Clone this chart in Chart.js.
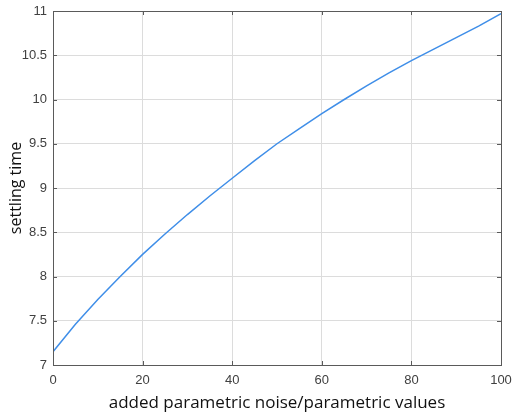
<!DOCTYPE html>
<html>
<head>
<meta charset="utf-8">
<script src="https://cdn.jsdelivr.net/npm/chart.js@4/dist/chart.umd.min.js"></script>
<style>
  html, body { margin: 0; padding: 0; background: #fff; }
  #wrap { width: 512px; height: 414px; }
</style>
</head>
<body>
<div id="wrap"><canvas id="chart" width="512" height="414"></canvas></div>
<script>
// noise values (x) and settling time
const noise = [0, 5, 10, 15, 20, 25, 30, 35, 40, 45, 50, 55, 60, 65, 70, 75, 80, 85, 90, 95, 100]
const settling = [7.15, 7.46, 7.74, 8.0, 8.25, 8.48, 8.7, 8.91, 9.11, 9.31, 9.5, 9.67, 9.84, 10.0, 10.155, 10.3, 10.44, 10.57, 10.7, 10.83, 10.97]

const xTicks = [0, 20, 40, 60, 80, 100]
const yTicks = [7, 7.5, 8, 8.5, 9, 9.5, 10, 10.5, 11]

// MATLAB style box with little inward tick marks
const boxPlugin = {
  id: 'box',
  afterDatasetsDraw(chart) {
    const { ctx, chartArea: a, scales } = chart
    ctx.save()
    ctx.strokeStyle = '#5a5a5a'
    ctx.lineWidth = 1
    ctx.beginPath()
    scales.x.ticks.forEach(t => {
      const px = Math.round(scales.x.getPixelForValue(t.value)) + 0.5
      ctx.moveTo(px, a.bottom); ctx.lineTo(px, a.bottom - 4)
      ctx.moveTo(px, a.top); ctx.lineTo(px, a.top + 4)
    })
    scales.y.ticks.forEach(t => {
      const py = Math.round(scales.y.getPixelForValue(t.value)) + 0.5
      ctx.moveTo(a.left, py); ctx.lineTo(a.left + 4, py)
      ctx.moveTo(a.right, py); ctx.lineTo(a.right - 4, py)
    })
    ctx.stroke()
    ctx.strokeRect(Math.round(a.left) + 0.5, Math.round(a.top) + 0.5,
      Math.round(a.right - a.left), Math.round(a.bottom - a.top))
    ctx.restore()
  }
}

Chart.defaults.font.family = '"Liberation Sans", Arial, sans-serif'

new Chart(document.getElementById('chart'), {
  type: 'line',
  data: {
    datasets: [{
      data: noise.map((n, i) => ({ x: n, y: settling[i] })),
      borderColor: '#3f8ee8',
      borderWidth: 1.5,
      pointRadius: 0,
      tension: 0,
      fill: false
    }]
  },
  options: {
    responsive: false,
    animation: false,
    layout: { padding: { top: 11, right: 11, left: 0, bottom: 0 } },
    plugins: { legend: { display: false }, tooltip: { enabled: false } },
    scales: {
      x: {
        type: 'linear',
        min: 0,
        max: 100,
        afterBuildTicks: s => { s.ticks = xTicks.map(v => ({ value: v })) },
        afterFit: s => { s.height = 49; s.paddingLeft = 0; s.paddingRight = 0 },
        grid: { color: '#dcdcdc', drawTicks: false },
        border: { display: false },
        ticks: { color: '#404040', font: { size: 13 }, padding: 8, maxRotation: 0 },
        title: {
          display: true,
          text: 'added parametric noise/parametric values',
          color: '#111',
          font: { family: '"Open Sans", sans-serif', size: 17, weight: 500 },
          padding: { top: 0, bottom: 1 }
        }
      },
      y: {
        min: 7,
        max: 11,
        afterBuildTicks: s => { s.ticks = yTicks.map(v => ({ value: v })) },
        afterFit: s => { s.width = 53; s.paddingTop = 0; s.paddingBottom = 0 },
        grid: { color: '#dcdcdc', drawTicks: false },
        border: { display: false },
        ticks: { color: '#404040', font: { size: 13 }, padding: 6, callback: v => String(v) },
        title: {
          display: true,
          text: 'settling time',
          color: '#111',
          font: { family: '"Open Sans", sans-serif', size: 16, weight: 500 },
          padding: { top: 7, bottom: 0 }
        }
      }
    }
  },
  plugins: [boxPlugin]
})
</script>
</body>
</html>
